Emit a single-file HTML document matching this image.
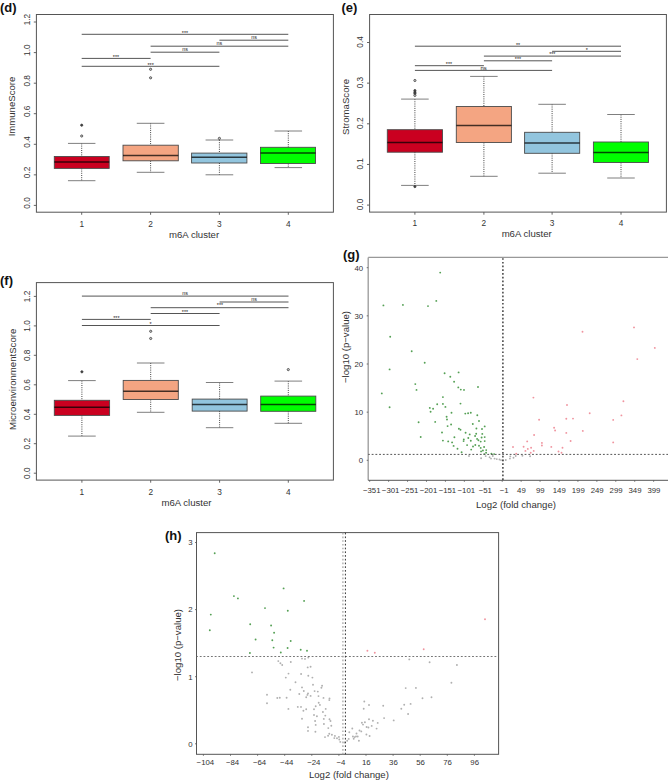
<!DOCTYPE html>
<html><head><meta charset="utf-8"><title>m6A cluster figure</title>
<style>
html,body{margin:0;padding:0;background:#fff;}
body{width:668px;height:781px;overflow:hidden;}
svg{display:block;font-family:"Liberation Sans", sans-serif;}
</style></head>
<body>
<svg width="668" height="781" viewBox="0 0 668 781">
<rect width="668" height="781" fill="#fff"/>
<rect x="36.4" y="14.5" width="297" height="197.7" fill="none" stroke="#555" stroke-width="1"/>
<line x1="33.8" y1="205.4" x2="36.4" y2="205.4" stroke="#555" stroke-width="0.9"/>
<text transform="translate(29.6 203) rotate(-90)" text-anchor="middle" font-size="8.3" font-weight="normal" fill="#333">0.0</text>
<line x1="33.8" y1="174.85" x2="36.4" y2="174.85" stroke="#555" stroke-width="0.9"/>
<text transform="translate(29.6 172.45) rotate(-90)" text-anchor="middle" font-size="8.3" font-weight="normal" fill="#333">0.2</text>
<line x1="33.8" y1="144.3" x2="36.4" y2="144.3" stroke="#555" stroke-width="0.9"/>
<text transform="translate(29.6 141.9) rotate(-90)" text-anchor="middle" font-size="8.3" font-weight="normal" fill="#333">0.4</text>
<line x1="33.8" y1="113.7" x2="36.4" y2="113.7" stroke="#555" stroke-width="0.9"/>
<text transform="translate(29.6 111.3) rotate(-90)" text-anchor="middle" font-size="8.3" font-weight="normal" fill="#333">0.6</text>
<line x1="33.8" y1="83.2" x2="36.4" y2="83.2" stroke="#555" stroke-width="0.9"/>
<text transform="translate(29.6 80.8) rotate(-90)" text-anchor="middle" font-size="8.3" font-weight="normal" fill="#333">0.8</text>
<line x1="33.8" y1="52.6" x2="36.4" y2="52.6" stroke="#555" stroke-width="0.9"/>
<text transform="translate(29.6 50.2) rotate(-90)" text-anchor="middle" font-size="8.3" font-weight="normal" fill="#333">1.0</text>
<line x1="33.8" y1="22" x2="36.4" y2="22" stroke="#555" stroke-width="0.9"/>
<text transform="translate(29.6 19.6) rotate(-90)" text-anchor="middle" font-size="8.3" font-weight="normal" fill="#333">1.2</text>
<line x1="81.7" y1="212.2" x2="81.7" y2="214.8" stroke="#555" stroke-width="0.9"/>
<text x="81.7" y="226.6" text-anchor="middle" font-size="8.3" font-weight="normal" fill="#333">1</text>
<line x1="150.6" y1="212.2" x2="150.6" y2="214.8" stroke="#555" stroke-width="0.9"/>
<text x="150.6" y="226.6" text-anchor="middle" font-size="8.3" font-weight="normal" fill="#333">2</text>
<line x1="219.4" y1="212.2" x2="219.4" y2="214.8" stroke="#555" stroke-width="0.9"/>
<text x="219.4" y="226.6" text-anchor="middle" font-size="8.3" font-weight="normal" fill="#333">3</text>
<line x1="288.3" y1="212.2" x2="288.3" y2="214.8" stroke="#555" stroke-width="0.9"/>
<text x="288.3" y="226.6" text-anchor="middle" font-size="8.3" font-weight="normal" fill="#333">4</text>
<text x="194.1" y="237.7" text-anchor="middle" font-size="9.6" font-weight="normal" fill="#333">m6A cluster</text>
<text transform="translate(15.2 106.5) rotate(-90)" text-anchor="middle" font-size="9.6" font-weight="normal" fill="#333">ImmuneScore</text>
<line x1="81.7" y1="143.4" x2="81.7" y2="156.5" stroke="#111" stroke-width="0.8" stroke-dasharray="1 1.2"/>
<line x1="81.7" y1="168.4" x2="81.7" y2="180.7" stroke="#111" stroke-width="0.8" stroke-dasharray="1 1.2"/>
<line x1="67.97" y1="143.4" x2="95.43" y2="143.4" stroke="#707070" stroke-width="0.9"/>
<line x1="67.97" y1="180.7" x2="95.43" y2="180.7" stroke="#707070" stroke-width="0.9"/>
<rect x="54.3" y="156.5" width="54.9" height="11.9" fill="#CA0020" stroke="#4a4a4a" stroke-width="0.9"/>
<line x1="54.3" y1="162" x2="109.2" y2="162" stroke="#000" stroke-width="1.5" stroke-opacity="0.72"/>
<circle cx="81.7" cy="125.2" r="1.1" fill="#444" stroke="#3a3a3a" stroke-width="0.8"/>
<circle cx="81.7" cy="136" r="1.1" fill="#ccc" stroke="#3a3a3a" stroke-width="0.8"/>
<line x1="150.6" y1="123.3" x2="150.6" y2="145.2" stroke="#111" stroke-width="0.8" stroke-dasharray="1 1.2"/>
<line x1="150.6" y1="160.8" x2="150.6" y2="172.3" stroke="#111" stroke-width="0.8" stroke-dasharray="1 1.2"/>
<line x1="136.77" y1="123.3" x2="164.43" y2="123.3" stroke="#707070" stroke-width="0.9"/>
<line x1="136.77" y1="172.3" x2="164.43" y2="172.3" stroke="#707070" stroke-width="0.9"/>
<rect x="123" y="145.2" width="55.3" height="15.6" fill="#F4A582" stroke="#4a4a4a" stroke-width="0.9"/>
<line x1="123" y1="155.5" x2="178.3" y2="155.5" stroke="#000" stroke-width="1.5" stroke-opacity="0.72"/>
<circle cx="150.6" cy="69.3" r="1.1" fill="#ccc" stroke="#3a3a3a" stroke-width="0.8"/>
<circle cx="150.6" cy="77.8" r="1.1" fill="#ccc" stroke="#3a3a3a" stroke-width="0.8"/>
<line x1="219.4" y1="140" x2="219.4" y2="153.1" stroke="#111" stroke-width="0.8" stroke-dasharray="1 1.2"/>
<line x1="219.4" y1="163" x2="219.4" y2="174.8" stroke="#111" stroke-width="0.8" stroke-dasharray="1 1.2"/>
<line x1="205.57" y1="140" x2="233.23" y2="140" stroke="#707070" stroke-width="0.9"/>
<line x1="205.57" y1="174.8" x2="233.23" y2="174.8" stroke="#707070" stroke-width="0.9"/>
<rect x="191.6" y="153.1" width="55.3" height="9.9" fill="#92C5DE" stroke="#4a4a4a" stroke-width="0.9"/>
<line x1="191.6" y1="157.3" x2="246.9" y2="157.3" stroke="#000" stroke-width="1.5" stroke-opacity="0.72"/>
<circle cx="219.4" cy="138.4" r="1.1" fill="#ccc" stroke="#3a3a3a" stroke-width="0.8"/>
<line x1="288.3" y1="131" x2="288.3" y2="147.3" stroke="#111" stroke-width="0.8" stroke-dasharray="1 1.2"/>
<line x1="288.3" y1="163.5" x2="288.3" y2="167.6" stroke="#111" stroke-width="0.8" stroke-dasharray="1 1.2"/>
<line x1="274.55" y1="131" x2="302.05" y2="131" stroke="#707070" stroke-width="0.9"/>
<line x1="274.55" y1="167.6" x2="302.05" y2="167.6" stroke="#707070" stroke-width="0.9"/>
<rect x="260.5" y="147.3" width="55" height="16.2" fill="#00FF00" stroke="#4a4a4a" stroke-width="0.9"/>
<line x1="260.5" y1="153.1" x2="315.5" y2="153.1" stroke="#000" stroke-width="1.5" stroke-opacity="0.72"/>
<line x1="81.7" y1="34.3" x2="288.3" y2="34.3" stroke="#555" stroke-width="1"/>
<text x="185" y="34.7" text-anchor="middle" font-size="5.4" font-weight="normal" fill="#222">***</text>
<line x1="219.4" y1="40.2" x2="288.3" y2="40.2" stroke="#555" stroke-width="1"/>
<text x="254" y="39.3" text-anchor="middle" font-size="5.4" font-weight="normal" fill="#222">ns</text>
<line x1="150.6" y1="46.2" x2="288.3" y2="46.2" stroke="#555" stroke-width="1"/>
<text x="219.4" y="45.3" text-anchor="middle" font-size="5.4" font-weight="normal" fill="#222">ns</text>
<line x1="150.6" y1="52.2" x2="219.4" y2="52.2" stroke="#555" stroke-width="1"/>
<text x="185" y="51.3" text-anchor="middle" font-size="5.4" font-weight="normal" fill="#222">ns</text>
<line x1="81.7" y1="58.4" x2="150.6" y2="58.4" stroke="#555" stroke-width="1"/>
<text x="116" y="58.7" text-anchor="middle" font-size="5.4" font-weight="normal" fill="#222">***</text>
<line x1="81.7" y1="66.3" x2="219.4" y2="66.3" stroke="#555" stroke-width="1"/>
<text x="150.6" y="66.5" text-anchor="middle" font-size="5.4" font-weight="normal" fill="#222">***</text>
<rect x="369.6" y="14.5" width="296.8" height="197.6" fill="none" stroke="#555" stroke-width="1"/>
<line x1="367" y1="205.1" x2="369.6" y2="205.1" stroke="#555" stroke-width="0.9"/>
<text transform="translate(363.4 204.5) rotate(-90)" text-anchor="middle" font-size="8.3" font-weight="normal" fill="#333">0.0</text>
<line x1="367" y1="164.45" x2="369.6" y2="164.45" stroke="#555" stroke-width="0.9"/>
<text transform="translate(363.4 163.85) rotate(-90)" text-anchor="middle" font-size="8.3" font-weight="normal" fill="#333">0.1</text>
<line x1="367" y1="123.8" x2="369.6" y2="123.8" stroke="#555" stroke-width="0.9"/>
<text transform="translate(363.4 123.2) rotate(-90)" text-anchor="middle" font-size="8.3" font-weight="normal" fill="#333">0.2</text>
<line x1="367" y1="83.15" x2="369.6" y2="83.15" stroke="#555" stroke-width="0.9"/>
<text transform="translate(363.4 82.55) rotate(-90)" text-anchor="middle" font-size="8.3" font-weight="normal" fill="#333">0.3</text>
<line x1="367" y1="42.5" x2="369.6" y2="42.5" stroke="#555" stroke-width="0.9"/>
<text transform="translate(363.4 41.9) rotate(-90)" text-anchor="middle" font-size="8.3" font-weight="normal" fill="#333">0.4</text>
<line x1="414.9" y1="212.1" x2="414.9" y2="214.7" stroke="#555" stroke-width="0.9"/>
<text x="414.9" y="226.2" text-anchor="middle" font-size="8.3" font-weight="normal" fill="#333">1</text>
<line x1="483.9" y1="212.1" x2="483.9" y2="214.7" stroke="#555" stroke-width="0.9"/>
<text x="483.9" y="226.2" text-anchor="middle" font-size="8.3" font-weight="normal" fill="#333">2</text>
<line x1="552.1" y1="212.1" x2="552.1" y2="214.7" stroke="#555" stroke-width="0.9"/>
<text x="552.1" y="226.2" text-anchor="middle" font-size="8.3" font-weight="normal" fill="#333">3</text>
<line x1="621" y1="212.1" x2="621" y2="214.7" stroke="#555" stroke-width="0.9"/>
<text x="621" y="226.2" text-anchor="middle" font-size="8.3" font-weight="normal" fill="#333">4</text>
<text x="526.7" y="237.4" text-anchor="middle" font-size="9.6" font-weight="normal" fill="#333">m6A cluster</text>
<text transform="translate(348.7 107) rotate(-90)" text-anchor="middle" font-size="9.6" font-weight="normal" fill="#333">StromaScore</text>
<line x1="414.9" y1="99.1" x2="414.9" y2="129.7" stroke="#111" stroke-width="0.8" stroke-dasharray="1 1.2"/>
<line x1="414.9" y1="152.2" x2="414.9" y2="185.4" stroke="#111" stroke-width="0.8" stroke-dasharray="1 1.2"/>
<line x1="401.1" y1="99.1" x2="428.7" y2="99.1" stroke="#707070" stroke-width="0.9"/>
<line x1="401.1" y1="185.4" x2="428.7" y2="185.4" stroke="#707070" stroke-width="0.9"/>
<rect x="387.3" y="129.7" width="55.2" height="22.5" fill="#CA0020" stroke="#4a4a4a" stroke-width="0.9"/>
<line x1="387.3" y1="142.5" x2="442.5" y2="142.5" stroke="#000" stroke-width="1.5" stroke-opacity="0.72"/>
<circle cx="414.9" cy="80.5" r="1.1" fill="#ccc" stroke="#3a3a3a" stroke-width="0.8"/>
<circle cx="414.9" cy="90.6" r="1.1" fill="#444" stroke="#3a3a3a" stroke-width="0.8"/>
<circle cx="414.9" cy="92.2" r="1.1" fill="#444" stroke="#3a3a3a" stroke-width="0.8"/>
<circle cx="414.9" cy="93.6" r="1.1" fill="#444" stroke="#3a3a3a" stroke-width="0.8"/>
<circle cx="414.9" cy="95.4" r="1.1" fill="#ccc" stroke="#3a3a3a" stroke-width="0.8"/>
<circle cx="414.9" cy="186.6" r="1.1" fill="#444" stroke="#3a3a3a" stroke-width="0.8"/>
<line x1="483.9" y1="76.4" x2="483.9" y2="106.5" stroke="#111" stroke-width="0.8" stroke-dasharray="1 1.2"/>
<line x1="483.9" y1="142.5" x2="483.9" y2="176.3" stroke="#111" stroke-width="0.8" stroke-dasharray="1 1.2"/>
<line x1="470.12" y1="76.4" x2="497.67" y2="76.4" stroke="#707070" stroke-width="0.9"/>
<line x1="470.12" y1="176.3" x2="497.67" y2="176.3" stroke="#707070" stroke-width="0.9"/>
<rect x="456.3" y="106.5" width="55.1" height="36" fill="#F4A582" stroke="#4a4a4a" stroke-width="0.9"/>
<line x1="456.3" y1="125.5" x2="511.4" y2="125.5" stroke="#000" stroke-width="1.5" stroke-opacity="0.72"/>
<line x1="552.1" y1="104.3" x2="552.1" y2="132.3" stroke="#111" stroke-width="0.8" stroke-dasharray="1 1.2"/>
<line x1="552.1" y1="153.3" x2="552.1" y2="173.2" stroke="#111" stroke-width="0.8" stroke-dasharray="1 1.2"/>
<line x1="538.33" y1="104.3" x2="565.88" y2="104.3" stroke="#707070" stroke-width="0.9"/>
<line x1="538.33" y1="173.2" x2="565.88" y2="173.2" stroke="#707070" stroke-width="0.9"/>
<rect x="524.6" y="132.3" width="55.1" height="21" fill="#92C5DE" stroke="#4a4a4a" stroke-width="0.9"/>
<line x1="524.6" y1="143" x2="579.7" y2="143" stroke="#000" stroke-width="1.5" stroke-opacity="0.72"/>
<line x1="621" y1="114.5" x2="621" y2="142" stroke="#111" stroke-width="0.8" stroke-dasharray="1 1.2"/>
<line x1="621" y1="162.5" x2="621" y2="178" stroke="#111" stroke-width="0.8" stroke-dasharray="1 1.2"/>
<line x1="607.23" y1="114.5" x2="634.77" y2="114.5" stroke="#707070" stroke-width="0.9"/>
<line x1="607.23" y1="178" x2="634.77" y2="178" stroke="#707070" stroke-width="0.9"/>
<rect x="593.4" y="142" width="55.1" height="20.5" fill="#00FF00" stroke="#4a4a4a" stroke-width="0.9"/>
<line x1="593.4" y1="152.5" x2="648.5" y2="152.5" stroke="#000" stroke-width="1.5" stroke-opacity="0.72"/>
<line x1="414.9" y1="46.2" x2="621" y2="46.2" stroke="#555" stroke-width="1"/>
<text x="518" y="46.5" text-anchor="middle" font-size="5.4" font-weight="normal" fill="#222">**</text>
<line x1="552.1" y1="51.3" x2="621" y2="51.3" stroke="#555" stroke-width="1"/>
<text x="586.7" y="51.8" text-anchor="middle" font-size="5.4" font-weight="normal" fill="#222">*</text>
<line x1="483.9" y1="56.1" x2="621" y2="56.1" stroke="#555" stroke-width="1"/>
<text x="552.3" y="56.4" text-anchor="middle" font-size="5.4" font-weight="normal" fill="#222">***</text>
<line x1="483.9" y1="60.8" x2="552.1" y2="60.8" stroke="#555" stroke-width="1"/>
<text x="518" y="61.1" text-anchor="middle" font-size="5.4" font-weight="normal" fill="#222">***</text>
<line x1="414.9" y1="65.7" x2="483.9" y2="65.7" stroke="#555" stroke-width="1"/>
<text x="449" y="66" text-anchor="middle" font-size="5.4" font-weight="normal" fill="#222">***</text>
<line x1="414.9" y1="70.4" x2="552.1" y2="70.4" stroke="#555" stroke-width="1"/>
<text x="483.7" y="70" text-anchor="middle" font-size="5.9" font-weight="normal" fill="#222">ns</text>
<rect x="36.4" y="282.6" width="297" height="197.5" fill="none" stroke="#555" stroke-width="1"/>
<line x1="33.8" y1="473.2" x2="36.4" y2="473.2" stroke="#555" stroke-width="0.9"/>
<text transform="translate(30.4 473.2) rotate(-90)" text-anchor="middle" font-size="8.3" font-weight="normal" fill="#333">0.0</text>
<line x1="33.8" y1="443.7" x2="36.4" y2="443.7" stroke="#555" stroke-width="0.9"/>
<text transform="translate(30.4 443.7) rotate(-90)" text-anchor="middle" font-size="8.3" font-weight="normal" fill="#333">0.2</text>
<line x1="33.8" y1="414.3" x2="36.4" y2="414.3" stroke="#555" stroke-width="0.9"/>
<text transform="translate(30.4 414.3) rotate(-90)" text-anchor="middle" font-size="8.3" font-weight="normal" fill="#333">0.4</text>
<line x1="33.8" y1="384.8" x2="36.4" y2="384.8" stroke="#555" stroke-width="0.9"/>
<text transform="translate(30.4 384.8) rotate(-90)" text-anchor="middle" font-size="8.3" font-weight="normal" fill="#333">0.6</text>
<line x1="33.8" y1="355.3" x2="36.4" y2="355.3" stroke="#555" stroke-width="0.9"/>
<text transform="translate(30.4 355.3) rotate(-90)" text-anchor="middle" font-size="8.3" font-weight="normal" fill="#333">0.8</text>
<line x1="33.8" y1="325.9" x2="36.4" y2="325.9" stroke="#555" stroke-width="0.9"/>
<text transform="translate(30.4 325.9) rotate(-90)" text-anchor="middle" font-size="8.3" font-weight="normal" fill="#333">1.0</text>
<line x1="33.8" y1="296.4" x2="36.4" y2="296.4" stroke="#555" stroke-width="0.9"/>
<text transform="translate(30.4 296.4) rotate(-90)" text-anchor="middle" font-size="8.3" font-weight="normal" fill="#333">1.2</text>
<line x1="81.9" y1="480.1" x2="81.9" y2="482.7" stroke="#555" stroke-width="0.9"/>
<text x="81.9" y="494.5" text-anchor="middle" font-size="8.3" font-weight="normal" fill="#333">1</text>
<line x1="150.7" y1="480.1" x2="150.7" y2="482.7" stroke="#555" stroke-width="0.9"/>
<text x="150.7" y="494.5" text-anchor="middle" font-size="8.3" font-weight="normal" fill="#333">2</text>
<line x1="219.6" y1="480.1" x2="219.6" y2="482.7" stroke="#555" stroke-width="0.9"/>
<text x="219.6" y="494.5" text-anchor="middle" font-size="8.3" font-weight="normal" fill="#333">3</text>
<line x1="288.3" y1="480.1" x2="288.3" y2="482.7" stroke="#555" stroke-width="0.9"/>
<text x="288.3" y="494.5" text-anchor="middle" font-size="8.3" font-weight="normal" fill="#333">4</text>
<text x="186.5" y="505.8" text-anchor="middle" font-size="9.6" font-weight="normal" fill="#333">m6A cluster</text>
<text transform="translate(15.9 379.4) rotate(-90)" text-anchor="middle" font-size="9.6" font-weight="normal" fill="#333">MicroenvironmentScore</text>
<line x1="81.9" y1="380.6" x2="81.9" y2="400.3" stroke="#111" stroke-width="0.8" stroke-dasharray="1 1.2"/>
<line x1="81.9" y1="415.4" x2="81.9" y2="436.1" stroke="#111" stroke-width="0.8" stroke-dasharray="1 1.2"/>
<line x1="68.08" y1="380.6" x2="95.73" y2="380.6" stroke="#707070" stroke-width="0.9"/>
<line x1="68.08" y1="436.1" x2="95.73" y2="436.1" stroke="#707070" stroke-width="0.9"/>
<rect x="54.3" y="400.3" width="55.3" height="15.1" fill="#CA0020" stroke="#4a4a4a" stroke-width="0.9"/>
<line x1="54.3" y1="407.2" x2="109.6" y2="407.2" stroke="#000" stroke-width="1.5" stroke-opacity="0.72"/>
<circle cx="81.9" cy="371.8" r="1.1" fill="#444" stroke="#3a3a3a" stroke-width="0.8"/>
<line x1="150.7" y1="363" x2="150.7" y2="380.4" stroke="#111" stroke-width="0.8" stroke-dasharray="1 1.2"/>
<line x1="150.7" y1="399.5" x2="150.7" y2="412.3" stroke="#111" stroke-width="0.8" stroke-dasharray="1 1.2"/>
<line x1="136.92" y1="363" x2="164.47" y2="363" stroke="#707070" stroke-width="0.9"/>
<line x1="136.92" y1="412.3" x2="164.47" y2="412.3" stroke="#707070" stroke-width="0.9"/>
<rect x="123.2" y="380.4" width="55.1" height="19.1" fill="#F4A582" stroke="#4a4a4a" stroke-width="0.9"/>
<line x1="123.2" y1="391.3" x2="178.3" y2="391.3" stroke="#000" stroke-width="1.5" stroke-opacity="0.72"/>
<circle cx="150.7" cy="331.3" r="1.1" fill="#ccc" stroke="#3a3a3a" stroke-width="0.8"/>
<circle cx="150.7" cy="338.5" r="1.1" fill="#ccc" stroke="#3a3a3a" stroke-width="0.8"/>
<line x1="219.6" y1="382.5" x2="219.6" y2="399.1" stroke="#111" stroke-width="0.8" stroke-dasharray="1 1.2"/>
<line x1="219.6" y1="411.1" x2="219.6" y2="427.7" stroke="#111" stroke-width="0.8" stroke-dasharray="1 1.2"/>
<line x1="205.88" y1="382.5" x2="233.32" y2="382.5" stroke="#707070" stroke-width="0.9"/>
<line x1="205.88" y1="427.7" x2="233.32" y2="427.7" stroke="#707070" stroke-width="0.9"/>
<rect x="192.2" y="399.1" width="54.9" height="12" fill="#92C5DE" stroke="#4a4a4a" stroke-width="0.9"/>
<line x1="192.2" y1="404.6" x2="247.1" y2="404.6" stroke="#000" stroke-width="1.5" stroke-opacity="0.72"/>
<line x1="288.3" y1="381.1" x2="288.3" y2="396.1" stroke="#111" stroke-width="0.8" stroke-dasharray="1 1.2"/>
<line x1="288.3" y1="411.3" x2="288.3" y2="423.3" stroke="#111" stroke-width="0.8" stroke-dasharray="1 1.2"/>
<line x1="274.52" y1="381.1" x2="302.08" y2="381.1" stroke="#707070" stroke-width="0.9"/>
<line x1="274.52" y1="423.3" x2="302.08" y2="423.3" stroke="#707070" stroke-width="0.9"/>
<rect x="260.7" y="396.1" width="55.1" height="15.2" fill="#00FF00" stroke="#4a4a4a" stroke-width="0.9"/>
<line x1="260.7" y1="404.4" x2="315.8" y2="404.4" stroke="#000" stroke-width="1.5" stroke-opacity="0.72"/>
<circle cx="288.3" cy="369.6" r="1.1" fill="#ccc" stroke="#3a3a3a" stroke-width="0.8"/>
<line x1="81.9" y1="296.1" x2="288.5" y2="296.1" stroke="#555" stroke-width="1"/>
<text x="185" y="295" text-anchor="middle" font-size="5.4" font-weight="normal" fill="#222">ns</text>
<line x1="219.6" y1="302" x2="288.5" y2="302" stroke="#555" stroke-width="1"/>
<text x="254" y="301.1" text-anchor="middle" font-size="5.4" font-weight="normal" fill="#222">ns</text>
<line x1="150.7" y1="307.7" x2="288.5" y2="307.7" stroke="#555" stroke-width="1"/>
<text x="220" y="307.2" text-anchor="middle" font-size="5.4" font-weight="normal" fill="#222">***</text>
<line x1="150.7" y1="313.5" x2="219.6" y2="313.5" stroke="#555" stroke-width="1"/>
<text x="185" y="313.8" text-anchor="middle" font-size="5.4" font-weight="normal" fill="#222">***</text>
<line x1="81.9" y1="319.4" x2="150.7" y2="319.4" stroke="#555" stroke-width="1"/>
<text x="116.4" y="319.7" text-anchor="middle" font-size="5.4" font-weight="normal" fill="#222">***</text>
<line x1="81.9" y1="325.5" x2="219.6" y2="325.5" stroke="#555" stroke-width="1"/>
<text x="150.5" y="325.8" text-anchor="middle" font-size="5.4" font-weight="normal" fill="#222">*</text>
<line x1="368.2" y1="257.4" x2="668" y2="257.4" stroke="#999" stroke-width="1.1"/>
<line x1="368.2" y1="257.4" x2="368.2" y2="480.3" stroke="#999" stroke-width="1.3"/>
<line x1="368.2" y1="480.3" x2="668" y2="480.3" stroke="#555" stroke-width="1"/>
<line x1="366.7" y1="460.3" x2="368.2" y2="460.3" stroke="#555" stroke-width="0.8"/>
<text x="363.2" y="463.1" text-anchor="end" font-size="7.8" font-weight="normal" fill="#333">0</text>
<line x1="366.7" y1="412.15" x2="368.2" y2="412.15" stroke="#555" stroke-width="0.8"/>
<text x="363.2" y="414.95" text-anchor="end" font-size="7.8" font-weight="normal" fill="#333">10</text>
<line x1="366.7" y1="364" x2="368.2" y2="364" stroke="#555" stroke-width="0.8"/>
<text x="363.2" y="366.8" text-anchor="end" font-size="7.8" font-weight="normal" fill="#333">20</text>
<line x1="366.7" y1="315.85" x2="368.2" y2="315.85" stroke="#555" stroke-width="0.8"/>
<text x="363.2" y="318.65" text-anchor="end" font-size="7.8" font-weight="normal" fill="#333">30</text>
<line x1="366.7" y1="267.7" x2="368.2" y2="267.7" stroke="#555" stroke-width="0.8"/>
<text x="363.2" y="270.5" text-anchor="end" font-size="7.8" font-weight="normal" fill="#333">40</text>
<line x1="369.7" y1="480.3" x2="369.7" y2="481.8" stroke="#555" stroke-width="0.8"/>
<text x="371.7" y="492.8" text-anchor="middle" font-size="7.8" font-weight="normal" fill="#333">−351</text>
<line x1="388.63" y1="480.3" x2="388.63" y2="481.8" stroke="#555" stroke-width="0.8"/>
<text x="390.63" y="492.8" text-anchor="middle" font-size="7.8" font-weight="normal" fill="#333">−301</text>
<line x1="407.56" y1="480.3" x2="407.56" y2="481.8" stroke="#555" stroke-width="0.8"/>
<text x="409.56" y="492.8" text-anchor="middle" font-size="7.8" font-weight="normal" fill="#333">−251</text>
<line x1="426.49" y1="480.3" x2="426.49" y2="481.8" stroke="#555" stroke-width="0.8"/>
<text x="428.49" y="492.8" text-anchor="middle" font-size="7.8" font-weight="normal" fill="#333">−201</text>
<line x1="445.42" y1="480.3" x2="445.42" y2="481.8" stroke="#555" stroke-width="0.8"/>
<text x="447.42" y="492.8" text-anchor="middle" font-size="7.8" font-weight="normal" fill="#333">−151</text>
<line x1="464.35" y1="480.3" x2="464.35" y2="481.8" stroke="#555" stroke-width="0.8"/>
<text x="466.35" y="492.8" text-anchor="middle" font-size="7.8" font-weight="normal" fill="#333">−101</text>
<line x1="483.28" y1="480.3" x2="483.28" y2="481.8" stroke="#555" stroke-width="0.8"/>
<text x="485.28" y="492.8" text-anchor="middle" font-size="7.8" font-weight="normal" fill="#333">−51</text>
<line x1="502.21" y1="480.3" x2="502.21" y2="481.8" stroke="#555" stroke-width="0.8"/>
<text x="504.21" y="492.8" text-anchor="middle" font-size="7.8" font-weight="normal" fill="#333">−1</text>
<line x1="521.14" y1="480.3" x2="521.14" y2="481.8" stroke="#555" stroke-width="0.8"/>
<text x="521.44" y="492.8" text-anchor="middle" font-size="7.8" font-weight="normal" fill="#333">49</text>
<line x1="540.07" y1="480.3" x2="540.07" y2="481.8" stroke="#555" stroke-width="0.8"/>
<text x="540.37" y="492.8" text-anchor="middle" font-size="7.8" font-weight="normal" fill="#333">99</text>
<line x1="559" y1="480.3" x2="559" y2="481.8" stroke="#555" stroke-width="0.8"/>
<text x="559.3" y="492.8" text-anchor="middle" font-size="7.8" font-weight="normal" fill="#333">149</text>
<line x1="577.93" y1="480.3" x2="577.93" y2="481.8" stroke="#555" stroke-width="0.8"/>
<text x="578.23" y="492.8" text-anchor="middle" font-size="7.8" font-weight="normal" fill="#333">199</text>
<line x1="596.86" y1="480.3" x2="596.86" y2="481.8" stroke="#555" stroke-width="0.8"/>
<text x="597.16" y="492.8" text-anchor="middle" font-size="7.8" font-weight="normal" fill="#333">249</text>
<line x1="615.79" y1="480.3" x2="615.79" y2="481.8" stroke="#555" stroke-width="0.8"/>
<text x="616.09" y="492.8" text-anchor="middle" font-size="7.8" font-weight="normal" fill="#333">299</text>
<line x1="634.72" y1="480.3" x2="634.72" y2="481.8" stroke="#555" stroke-width="0.8"/>
<text x="635.02" y="492.8" text-anchor="middle" font-size="7.8" font-weight="normal" fill="#333">349</text>
<line x1="653.65" y1="480.3" x2="653.65" y2="481.8" stroke="#555" stroke-width="0.8"/>
<text x="653.95" y="492.8" text-anchor="middle" font-size="7.8" font-weight="normal" fill="#333">399</text>
<text x="516" y="507.7" text-anchor="middle" font-size="9.6" font-weight="normal" fill="#333">Log2 (fold change)</text>
<text transform="translate(349.2 347) rotate(-90)" text-anchor="middle" font-size="9.6" font-weight="normal" fill="#333">−log10 (p−value)</text>
<circle cx="469" cy="456" r="0.95" fill="#b0b0b0"/>
<circle cx="481.1" cy="458.2" r="0.95" fill="#b0b0b0"/>
<circle cx="489.6" cy="457.3" r="0.95" fill="#b0b0b0"/>
<circle cx="491" cy="458.6" r="0.95" fill="#b0b0b0"/>
<circle cx="494.6" cy="458.6" r="0.95" fill="#b0b0b0"/>
<circle cx="496.8" cy="459.1" r="0.95" fill="#b0b0b0"/>
<circle cx="499.5" cy="459.5" r="0.95" fill="#b0b0b0"/>
<circle cx="503" cy="460.4" r="0.95" fill="#b0b0b0"/>
<circle cx="505.8" cy="460" r="0.95" fill="#b0b0b0"/>
<circle cx="509.9" cy="458.6" r="0.95" fill="#b0b0b0"/>
<circle cx="513.5" cy="457.7" r="0.95" fill="#b0b0b0"/>
<circle cx="510.3" cy="456.4" r="0.95" fill="#b0b0b0"/>
<circle cx="515.7" cy="456" r="0.95" fill="#b0b0b0"/>
<circle cx="492.8" cy="456" r="0.95" fill="#b0b0b0"/>
<circle cx="522.4" cy="455.7" r="0.95" fill="#b0b0b0"/>
<circle cx="530.1" cy="456.3" r="0.95" fill="#b0b0b0"/>
<circle cx="501" cy="460.1" r="0.95" fill="#b0b0b0"/>
<circle cx="485.7" cy="456.1" r="0.95" fill="#b0b0b0"/>
<circle cx="440.2" cy="272.6" r="0.95" fill="#55a055"/>
<circle cx="383.4" cy="305.4" r="0.95" fill="#55a055"/>
<circle cx="402.9" cy="304.9" r="0.95" fill="#55a055"/>
<circle cx="428" cy="306.1" r="0.95" fill="#55a055"/>
<circle cx="436.3" cy="300.9" r="0.95" fill="#55a055"/>
<circle cx="390.2" cy="336.8" r="0.95" fill="#55a055"/>
<circle cx="411.7" cy="351.2" r="0.95" fill="#55a055"/>
<circle cx="424.7" cy="362.7" r="0.95" fill="#55a055"/>
<circle cx="389.6" cy="369.4" r="0.95" fill="#55a055"/>
<circle cx="444.6" cy="373.2" r="0.95" fill="#55a055"/>
<circle cx="458.6" cy="372.4" r="0.95" fill="#55a055"/>
<circle cx="450.3" cy="376.8" r="0.95" fill="#55a055"/>
<circle cx="454.1" cy="381.7" r="0.95" fill="#55a055"/>
<circle cx="415.3" cy="384.1" r="0.95" fill="#55a055"/>
<circle cx="416.5" cy="389.9" r="0.95" fill="#55a055"/>
<circle cx="458.3" cy="387.4" r="0.95" fill="#55a055"/>
<circle cx="460.8" cy="389.6" r="0.95" fill="#55a055"/>
<circle cx="464" cy="389.9" r="0.95" fill="#55a055"/>
<circle cx="381.8" cy="393.4" r="0.95" fill="#55a055"/>
<circle cx="442.9" cy="397.1" r="0.95" fill="#55a055"/>
<circle cx="389.6" cy="407.2" r="0.95" fill="#55a055"/>
<circle cx="437.2" cy="404.3" r="0.95" fill="#55a055"/>
<circle cx="442.9" cy="403.9" r="0.95" fill="#55a055"/>
<circle cx="445.4" cy="406.9" r="0.95" fill="#55a055"/>
<circle cx="429.8" cy="407.9" r="0.95" fill="#55a055"/>
<circle cx="433.1" cy="408.8" r="0.95" fill="#55a055"/>
<circle cx="430.6" cy="411.8" r="0.95" fill="#55a055"/>
<circle cx="460.5" cy="403.6" r="0.95" fill="#55a055"/>
<circle cx="451.5" cy="412.8" r="0.95" fill="#55a055"/>
<circle cx="465.3" cy="413.6" r="0.95" fill="#55a055"/>
<circle cx="446.6" cy="416.7" r="0.95" fill="#55a055"/>
<circle cx="447" cy="419.5" r="0.95" fill="#55a055"/>
<circle cx="418.6" cy="422.2" r="0.95" fill="#55a055"/>
<circle cx="435.2" cy="421.9" r="0.95" fill="#55a055"/>
<circle cx="447.6" cy="426.1" r="0.95" fill="#55a055"/>
<circle cx="451.1" cy="424.5" r="0.95" fill="#55a055"/>
<circle cx="458.9" cy="428.7" r="0.95" fill="#55a055"/>
<circle cx="460.5" cy="429.7" r="0.95" fill="#55a055"/>
<circle cx="465.6" cy="432.7" r="0.95" fill="#55a055"/>
<circle cx="442" cy="432.5" r="0.95" fill="#55a055"/>
<circle cx="420.7" cy="437" r="0.95" fill="#55a055"/>
<circle cx="454.4" cy="437.2" r="0.95" fill="#55a055"/>
<circle cx="442.9" cy="440.6" r="0.95" fill="#55a055"/>
<circle cx="448.2" cy="441.4" r="0.95" fill="#55a055"/>
<circle cx="452.1" cy="442.4" r="0.95" fill="#55a055"/>
<circle cx="463.8" cy="439.4" r="0.95" fill="#55a055"/>
<circle cx="463.6" cy="441.1" r="0.95" fill="#55a055"/>
<circle cx="453.6" cy="445.9" r="0.95" fill="#55a055"/>
<circle cx="457.5" cy="448.7" r="0.95" fill="#55a055"/>
<circle cx="467.1" cy="445.1" r="0.95" fill="#55a055"/>
<circle cx="461.6" cy="452.2" r="0.95" fill="#55a055"/>
<circle cx="478" cy="387" r="0.95" fill="#55a055"/>
<circle cx="468.1" cy="413.2" r="0.95" fill="#55a055"/>
<circle cx="470.8" cy="412.8" r="0.95" fill="#55a055"/>
<circle cx="477.3" cy="415.2" r="0.95" fill="#55a055"/>
<circle cx="479" cy="421" r="0.95" fill="#55a055"/>
<circle cx="472.8" cy="424" r="0.95" fill="#55a055"/>
<circle cx="484.7" cy="426.4" r="0.95" fill="#55a055"/>
<circle cx="476.4" cy="428.5" r="0.95" fill="#55a055"/>
<circle cx="482" cy="429" r="0.95" fill="#55a055"/>
<circle cx="469.7" cy="434.4" r="0.95" fill="#55a055"/>
<circle cx="476.2" cy="433.7" r="0.95" fill="#55a055"/>
<circle cx="482.3" cy="433.9" r="0.95" fill="#55a055"/>
<circle cx="475.1" cy="436" r="0.95" fill="#55a055"/>
<circle cx="481.6" cy="437.5" r="0.95" fill="#55a055"/>
<circle cx="484.7" cy="437.1" r="0.95" fill="#55a055"/>
<circle cx="468.3" cy="438" r="0.95" fill="#55a055"/>
<circle cx="477.1" cy="438.9" r="0.95" fill="#55a055"/>
<circle cx="478.4" cy="440.2" r="0.95" fill="#55a055"/>
<circle cx="470.8" cy="440.8" r="0.95" fill="#55a055"/>
<circle cx="480.7" cy="441.6" r="0.95" fill="#55a055"/>
<circle cx="484.7" cy="441.1" r="0.95" fill="#55a055"/>
<circle cx="475.3" cy="445" r="0.95" fill="#55a055"/>
<circle cx="473" cy="446.5" r="0.95" fill="#55a055"/>
<circle cx="479" cy="445.8" r="0.95" fill="#55a055"/>
<circle cx="480.7" cy="447.9" r="0.95" fill="#55a055"/>
<circle cx="484.1" cy="447" r="0.95" fill="#55a055"/>
<circle cx="471.2" cy="449.6" r="0.95" fill="#55a055"/>
<circle cx="481.1" cy="451.4" r="0.95" fill="#55a055"/>
<circle cx="482.9" cy="450.5" r="0.95" fill="#55a055"/>
<circle cx="486.2" cy="450.1" r="0.95" fill="#55a055"/>
<circle cx="486.1" cy="452.8" r="0.95" fill="#55a055"/>
<circle cx="491.4" cy="453.7" r="0.95" fill="#55a055"/>
<circle cx="494.1" cy="454.1" r="0.95" fill="#55a055"/>
<circle cx="484.3" cy="454.1" r="0.95" fill="#55a055"/>
<circle cx="513" cy="447" r="0.95" fill="#f0949f"/>
<circle cx="516.2" cy="453.7" r="0.95" fill="#f0949f"/>
<circle cx="567" cy="405" r="0.95" fill="#f0949f"/>
<circle cx="539.1" cy="419.8" r="0.95" fill="#f0949f"/>
<circle cx="566.3" cy="418.8" r="0.95" fill="#f0949f"/>
<circle cx="573" cy="418.6" r="0.95" fill="#f0949f"/>
<circle cx="554.1" cy="427.8" r="0.95" fill="#f0949f"/>
<circle cx="555.1" cy="430.5" r="0.95" fill="#f0949f"/>
<circle cx="566.3" cy="432.9" r="0.95" fill="#f0949f"/>
<circle cx="582.8" cy="430.9" r="0.95" fill="#f0949f"/>
<circle cx="534.1" cy="435" r="0.95" fill="#f0949f"/>
<circle cx="527.2" cy="441.4" r="0.95" fill="#f0949f"/>
<circle cx="541.9" cy="442.9" r="0.95" fill="#f0949f"/>
<circle cx="541.9" cy="445.5" r="0.95" fill="#f0949f"/>
<circle cx="570.6" cy="441" r="0.95" fill="#f0949f"/>
<circle cx="523.6" cy="446.8" r="0.95" fill="#f0949f"/>
<circle cx="551.3" cy="446.9" r="0.95" fill="#f0949f"/>
<circle cx="527.8" cy="448.9" r="0.95" fill="#f0949f"/>
<circle cx="531.1" cy="447.7" r="0.95" fill="#f0949f"/>
<circle cx="562.5" cy="447.7" r="0.95" fill="#f0949f"/>
<circle cx="525.4" cy="450.9" r="0.95" fill="#f0949f"/>
<circle cx="533.7" cy="450.9" r="0.95" fill="#f0949f"/>
<circle cx="558.5" cy="451.5" r="0.95" fill="#f0949f"/>
<circle cx="561.5" cy="452.7" r="0.95" fill="#f0949f"/>
<circle cx="530.7" cy="452.7" r="0.95" fill="#f0949f"/>
<circle cx="582.5" cy="331.7" r="0.95" fill="#f0949f"/>
<circle cx="634" cy="327.4" r="0.95" fill="#f0949f"/>
<circle cx="654.8" cy="347.9" r="0.95" fill="#f0949f"/>
<circle cx="637.3" cy="359.1" r="0.95" fill="#f0949f"/>
<circle cx="623.4" cy="401.2" r="0.95" fill="#f0949f"/>
<circle cx="589.7" cy="413.2" r="0.95" fill="#f0949f"/>
<circle cx="621.4" cy="415.4" r="0.95" fill="#f0949f"/>
<circle cx="613.2" cy="419.9" r="0.95" fill="#f0949f"/>
<circle cx="613.2" cy="442.4" r="0.95" fill="#f0949f"/>
<circle cx="533.4" cy="397.6" r="0.95" fill="#f0949f"/>
<line x1="368.2" y1="454.4" x2="668" y2="454.4" stroke="#555" stroke-width="1" stroke-dasharray="1.85 1.88" stroke-dashoffset="0.26"/>
<line x1="502.9" y1="257.4" x2="502.9" y2="480.3" stroke="#333" stroke-width="1.4" stroke-dasharray="1.7 2.03" stroke-dashoffset="2.98"/>
<rect x="196.5" y="532.6" width="302.1" height="221.7" fill="none" stroke="#555" stroke-width="1"/>
<line x1="195" y1="743.8" x2="196.5" y2="743.8" stroke="#555" stroke-width="0.8"/>
<text x="192.6" y="746.6" text-anchor="end" font-size="7.8" font-weight="normal" fill="#333">0</text>
<line x1="195" y1="676.7" x2="196.5" y2="676.7" stroke="#555" stroke-width="0.8"/>
<text x="192.6" y="679.5" text-anchor="end" font-size="7.8" font-weight="normal" fill="#333">1</text>
<line x1="195" y1="609.6" x2="196.5" y2="609.6" stroke="#555" stroke-width="0.8"/>
<text x="192.6" y="612.4" text-anchor="end" font-size="7.8" font-weight="normal" fill="#333">2</text>
<line x1="195" y1="542.5" x2="196.5" y2="542.5" stroke="#555" stroke-width="0.8"/>
<text x="192.6" y="545.3" text-anchor="end" font-size="7.8" font-weight="normal" fill="#333">3</text>
<line x1="203.4" y1="754.3" x2="203.4" y2="755.8" stroke="#555" stroke-width="0.8"/>
<text x="205.4" y="764.6" text-anchor="middle" font-size="7.8" font-weight="normal" fill="#333">−104</text>
<line x1="230.5" y1="754.3" x2="230.5" y2="755.8" stroke="#555" stroke-width="0.8"/>
<text x="232.5" y="764.6" text-anchor="middle" font-size="7.8" font-weight="normal" fill="#333">−84</text>
<line x1="257.6" y1="754.3" x2="257.6" y2="755.8" stroke="#555" stroke-width="0.8"/>
<text x="259.6" y="764.6" text-anchor="middle" font-size="7.8" font-weight="normal" fill="#333">−64</text>
<line x1="284.7" y1="754.3" x2="284.7" y2="755.8" stroke="#555" stroke-width="0.8"/>
<text x="286.7" y="764.6" text-anchor="middle" font-size="7.8" font-weight="normal" fill="#333">−44</text>
<line x1="311.8" y1="754.3" x2="311.8" y2="755.8" stroke="#555" stroke-width="0.8"/>
<text x="313.8" y="764.6" text-anchor="middle" font-size="7.8" font-weight="normal" fill="#333">−24</text>
<line x1="338.9" y1="754.3" x2="338.9" y2="755.8" stroke="#555" stroke-width="0.8"/>
<text x="340.9" y="764.6" text-anchor="middle" font-size="7.8" font-weight="normal" fill="#333">−4</text>
<line x1="366" y1="754.3" x2="366" y2="755.8" stroke="#555" stroke-width="0.8"/>
<text x="366.3" y="764.6" text-anchor="middle" font-size="7.8" font-weight="normal" fill="#333">16</text>
<line x1="393.1" y1="754.3" x2="393.1" y2="755.8" stroke="#555" stroke-width="0.8"/>
<text x="393.4" y="764.6" text-anchor="middle" font-size="7.8" font-weight="normal" fill="#333">36</text>
<line x1="420.2" y1="754.3" x2="420.2" y2="755.8" stroke="#555" stroke-width="0.8"/>
<text x="420.5" y="764.6" text-anchor="middle" font-size="7.8" font-weight="normal" fill="#333">56</text>
<line x1="447.3" y1="754.3" x2="447.3" y2="755.8" stroke="#555" stroke-width="0.8"/>
<text x="447.6" y="764.6" text-anchor="middle" font-size="7.8" font-weight="normal" fill="#333">76</text>
<line x1="474.4" y1="754.3" x2="474.4" y2="755.8" stroke="#555" stroke-width="0.8"/>
<text x="474.7" y="764.6" text-anchor="middle" font-size="7.8" font-weight="normal" fill="#333">96</text>
<text x="348.9" y="777.7" text-anchor="middle" font-size="9.6" font-weight="normal" fill="#333">Log2 (fold change)</text>
<text transform="translate(180.7 645) rotate(-90)" text-anchor="middle" font-size="9.6" font-weight="normal" fill="#333">−log10 (p−value)</text>
<circle cx="278.3" cy="661.1" r="0.95" fill="#b0b0b0"/>
<circle cx="280.4" cy="663.2" r="0.95" fill="#b0b0b0"/>
<circle cx="282.2" cy="665" r="0.95" fill="#b0b0b0"/>
<circle cx="290.8" cy="662" r="0.95" fill="#b0b0b0"/>
<circle cx="302" cy="658.6" r="0.95" fill="#b0b0b0"/>
<circle cx="305" cy="658.9" r="0.95" fill="#b0b0b0"/>
<circle cx="308.3" cy="657.5" r="0.95" fill="#b0b0b0"/>
<circle cx="307.7" cy="667.4" r="0.95" fill="#b0b0b0"/>
<circle cx="310.6" cy="666.8" r="0.95" fill="#b0b0b0"/>
<circle cx="252" cy="672.4" r="0.95" fill="#b0b0b0"/>
<circle cx="288.5" cy="673.6" r="0.95" fill="#b0b0b0"/>
<circle cx="301.1" cy="674" r="0.95" fill="#b0b0b0"/>
<circle cx="308.3" cy="675.8" r="0.95" fill="#b0b0b0"/>
<circle cx="312.4" cy="677.6" r="0.95" fill="#b0b0b0"/>
<circle cx="285.8" cy="677.6" r="0.95" fill="#b0b0b0"/>
<circle cx="295.5" cy="682.2" r="0.95" fill="#b0b0b0"/>
<circle cx="290.3" cy="689.7" r="0.95" fill="#b0b0b0"/>
<circle cx="267" cy="694.8" r="0.95" fill="#b0b0b0"/>
<circle cx="277.3" cy="698" r="0.95" fill="#b0b0b0"/>
<circle cx="279.8" cy="697.7" r="0.95" fill="#b0b0b0"/>
<circle cx="286.6" cy="697.7" r="0.95" fill="#b0b0b0"/>
<circle cx="267" cy="703.2" r="0.95" fill="#b0b0b0"/>
<circle cx="288.4" cy="708.9" r="0.95" fill="#b0b0b0"/>
<circle cx="313" cy="684.7" r="0.95" fill="#b0b0b0"/>
<circle cx="322.1" cy="685.7" r="0.95" fill="#b0b0b0"/>
<circle cx="321.4" cy="687.7" r="0.95" fill="#b0b0b0"/>
<circle cx="302" cy="687.4" r="0.95" fill="#b0b0b0"/>
<circle cx="303.8" cy="691" r="0.95" fill="#b0b0b0"/>
<circle cx="314.6" cy="691.1" r="0.95" fill="#b0b0b0"/>
<circle cx="317.8" cy="691.6" r="0.95" fill="#b0b0b0"/>
<circle cx="299.3" cy="694" r="0.95" fill="#b0b0b0"/>
<circle cx="308" cy="693.4" r="0.95" fill="#b0b0b0"/>
<circle cx="307.4" cy="694.9" r="0.95" fill="#b0b0b0"/>
<circle cx="306.2" cy="697.3" r="0.95" fill="#b0b0b0"/>
<circle cx="310.6" cy="695.9" r="0.95" fill="#b0b0b0"/>
<circle cx="318.5" cy="696.1" r="0.95" fill="#b0b0b0"/>
<circle cx="323.5" cy="697.9" r="0.95" fill="#b0b0b0"/>
<circle cx="329.5" cy="698.5" r="0.95" fill="#b0b0b0"/>
<circle cx="329.3" cy="700.1" r="0.95" fill="#b0b0b0"/>
<circle cx="318.7" cy="702.7" r="0.95" fill="#b0b0b0"/>
<circle cx="319.9" cy="704.9" r="0.95" fill="#b0b0b0"/>
<circle cx="315.7" cy="706.3" r="0.95" fill="#b0b0b0"/>
<circle cx="297.8" cy="706.9" r="0.95" fill="#b0b0b0"/>
<circle cx="301" cy="706.9" r="0.95" fill="#b0b0b0"/>
<circle cx="306.2" cy="709.3" r="0.95" fill="#b0b0b0"/>
<circle cx="314" cy="709.3" r="0.95" fill="#b0b0b0"/>
<circle cx="325.7" cy="708.9" r="0.95" fill="#b0b0b0"/>
<circle cx="364.3" cy="701.5" r="0.95" fill="#b0b0b0"/>
<circle cx="363.7" cy="708.7" r="0.95" fill="#b0b0b0"/>
<circle cx="303.4" cy="710.8" r="0.95" fill="#b0b0b0"/>
<circle cx="322.9" cy="712" r="0.95" fill="#b0b0b0"/>
<circle cx="325.3" cy="715.6" r="0.95" fill="#b0b0b0"/>
<circle cx="314" cy="715" r="0.95" fill="#b0b0b0"/>
<circle cx="316.9" cy="716.2" r="0.95" fill="#b0b0b0"/>
<circle cx="302" cy="718.8" r="0.95" fill="#b0b0b0"/>
<circle cx="323.8" cy="718.9" r="0.95" fill="#b0b0b0"/>
<circle cx="329.5" cy="719.2" r="0.95" fill="#b0b0b0"/>
<circle cx="330.5" cy="721" r="0.95" fill="#b0b0b0"/>
<circle cx="315.1" cy="721" r="0.95" fill="#b0b0b0"/>
<circle cx="315.7" cy="724.9" r="0.95" fill="#b0b0b0"/>
<circle cx="323.9" cy="724" r="0.95" fill="#b0b0b0"/>
<circle cx="331.3" cy="725.7" r="0.95" fill="#b0b0b0"/>
<circle cx="328.3" cy="728.1" r="0.95" fill="#b0b0b0"/>
<circle cx="308" cy="727.3" r="0.95" fill="#b0b0b0"/>
<circle cx="308" cy="730.9" r="0.95" fill="#b0b0b0"/>
<circle cx="315.4" cy="731.7" r="0.95" fill="#b0b0b0"/>
<circle cx="325" cy="737.1" r="0.95" fill="#b0b0b0"/>
<circle cx="328.1" cy="735.7" r="0.95" fill="#b0b0b0"/>
<circle cx="329.3" cy="733.8" r="0.95" fill="#b0b0b0"/>
<circle cx="331.9" cy="734.7" r="0.95" fill="#b0b0b0"/>
<circle cx="334.9" cy="735.9" r="0.95" fill="#b0b0b0"/>
<circle cx="334.3" cy="738.1" r="0.95" fill="#b0b0b0"/>
<circle cx="337" cy="738.3" r="0.95" fill="#b0b0b0"/>
<circle cx="338.9" cy="736.9" r="0.95" fill="#b0b0b0"/>
<circle cx="339.3" cy="739.5" r="0.95" fill="#b0b0b0"/>
<circle cx="340.3" cy="741.9" r="0.95" fill="#b0b0b0"/>
<circle cx="344.5" cy="742.5" r="0.95" fill="#b0b0b0"/>
<circle cx="347.2" cy="740.7" r="0.95" fill="#b0b0b0"/>
<circle cx="348.7" cy="738.9" r="0.95" fill="#b0b0b0"/>
<circle cx="349.3" cy="732.3" r="0.95" fill="#b0b0b0"/>
<circle cx="352.3" cy="728.5" r="0.95" fill="#b0b0b0"/>
<circle cx="352.9" cy="736.5" r="0.95" fill="#b0b0b0"/>
<circle cx="354.7" cy="737.1" r="0.95" fill="#b0b0b0"/>
<circle cx="356.5" cy="733.5" r="0.95" fill="#b0b0b0"/>
<circle cx="357.7" cy="736.5" r="0.95" fill="#b0b0b0"/>
<circle cx="358.9" cy="740.7" r="0.95" fill="#b0b0b0"/>
<circle cx="359.5" cy="730.5" r="0.95" fill="#b0b0b0"/>
<circle cx="361.3" cy="731.4" r="0.95" fill="#b0b0b0"/>
<circle cx="361.9" cy="722.8" r="0.95" fill="#b0b0b0"/>
<circle cx="363" cy="724.6" r="0.95" fill="#b0b0b0"/>
<circle cx="364.9" cy="722.2" r="0.95" fill="#b0b0b0"/>
<circle cx="366.6" cy="727" r="0.95" fill="#b0b0b0"/>
<circle cx="368.4" cy="727.5" r="0.95" fill="#b0b0b0"/>
<circle cx="366.4" cy="734.5" r="0.95" fill="#b0b0b0"/>
<circle cx="369" cy="705" r="0.95" fill="#b0b0b0"/>
<circle cx="369" cy="719.2" r="0.95" fill="#b0b0b0"/>
<circle cx="369.6" cy="736" r="0.95" fill="#b0b0b0"/>
<circle cx="409.3" cy="659.4" r="0.95" fill="#b0b0b0"/>
<circle cx="429.6" cy="662.2" r="0.95" fill="#b0b0b0"/>
<circle cx="405.7" cy="688.1" r="0.95" fill="#b0b0b0"/>
<circle cx="415.9" cy="687.9" r="0.95" fill="#b0b0b0"/>
<circle cx="422.5" cy="698.3" r="0.95" fill="#b0b0b0"/>
<circle cx="456.9" cy="665" r="0.95" fill="#b0b0b0"/>
<circle cx="451.4" cy="682.8" r="0.95" fill="#b0b0b0"/>
<circle cx="431.5" cy="697.3" r="0.95" fill="#b0b0b0"/>
<circle cx="383.2" cy="705.7" r="0.95" fill="#b0b0b0"/>
<circle cx="401.3" cy="708.7" r="0.95" fill="#b0b0b0"/>
<circle cx="404.2" cy="704.7" r="0.95" fill="#b0b0b0"/>
<circle cx="410.6" cy="703.9" r="0.95" fill="#b0b0b0"/>
<circle cx="408.1" cy="714" r="0.95" fill="#b0b0b0"/>
<circle cx="384.1" cy="718.1" r="0.95" fill="#b0b0b0"/>
<circle cx="393.7" cy="720.4" r="0.95" fill="#b0b0b0"/>
<circle cx="372.9" cy="720.8" r="0.95" fill="#b0b0b0"/>
<circle cx="377.7" cy="722.9" r="0.95" fill="#b0b0b0"/>
<circle cx="371.7" cy="725.9" r="0.95" fill="#b0b0b0"/>
<circle cx="376.6" cy="728.6" r="0.95" fill="#b0b0b0"/>
<circle cx="356" cy="736.4" r="0.95" fill="#b0b0b0"/>
<circle cx="353.7" cy="738.7" r="0.95" fill="#b0b0b0"/>
<circle cx="214.7" cy="553.2" r="0.95" fill="#55a055"/>
<circle cx="233.9" cy="596.1" r="0.95" fill="#55a055"/>
<circle cx="237.9" cy="598.4" r="0.95" fill="#55a055"/>
<circle cx="283.6" cy="588.4" r="0.95" fill="#55a055"/>
<circle cx="265" cy="608.1" r="0.95" fill="#55a055"/>
<circle cx="287.8" cy="610.7" r="0.95" fill="#55a055"/>
<circle cx="210.8" cy="614.6" r="0.95" fill="#55a055"/>
<circle cx="304.1" cy="600.9" r="0.95" fill="#55a055"/>
<circle cx="209.8" cy="630.3" r="0.95" fill="#55a055"/>
<circle cx="250.2" cy="624.3" r="0.95" fill="#55a055"/>
<circle cx="271.1" cy="625.5" r="0.95" fill="#55a055"/>
<circle cx="274.1" cy="632.7" r="0.95" fill="#55a055"/>
<circle cx="255.6" cy="639.5" r="0.95" fill="#55a055"/>
<circle cx="272.3" cy="640.2" r="0.95" fill="#55a055"/>
<circle cx="290.7" cy="641" r="0.95" fill="#55a055"/>
<circle cx="273.6" cy="647.6" r="0.95" fill="#55a055"/>
<circle cx="287.6" cy="648" r="0.95" fill="#55a055"/>
<circle cx="280.8" cy="652.5" r="0.95" fill="#55a055"/>
<circle cx="300.7" cy="649.8" r="0.95" fill="#55a055"/>
<circle cx="307" cy="650.8" r="0.95" fill="#55a055"/>
<circle cx="249.9" cy="653" r="0.95" fill="#55a055"/>
<circle cx="485" cy="619.2" r="0.95" fill="#f0949f"/>
<circle cx="367.4" cy="650.8" r="0.95" fill="#f0949f"/>
<circle cx="374.8" cy="652.8" r="0.95" fill="#f0949f"/>
<circle cx="423.7" cy="649.2" r="0.95" fill="#f0949f"/>
<line x1="196.5" y1="656.5" x2="498.6" y2="656.5" stroke="#666" stroke-width="0.9" stroke-dasharray="1.85 1.88" stroke-dashoffset="0.46"/>
<line x1="342.9" y1="532.6" x2="342.9" y2="754.3" stroke="#aaa" stroke-width="1.3" stroke-dasharray="1.7 2.03" stroke-dashoffset="3.62"/>
<line x1="345.4" y1="532.6" x2="345.4" y2="754.3" stroke="#333" stroke-width="1" stroke-dasharray="1.7 2.03" stroke-dashoffset="3.62"/>
<text x="0" y="12" text-anchor="start" font-size="13" font-weight="bold" fill="#111">(d)</text>
<text x="341.4" y="12.2" text-anchor="start" font-size="13" font-weight="bold" fill="#111">(e)</text>
<text x="0" y="284.7" text-anchor="start" font-size="13" font-weight="bold" fill="#111">(f)</text>
<text x="343" y="259.2" text-anchor="start" font-size="13" font-weight="bold" fill="#111">(g)</text>
<text x="164.9" y="539.6" text-anchor="start" font-size="13" font-weight="bold" fill="#111">(h)</text>
</svg>
</body></html>
